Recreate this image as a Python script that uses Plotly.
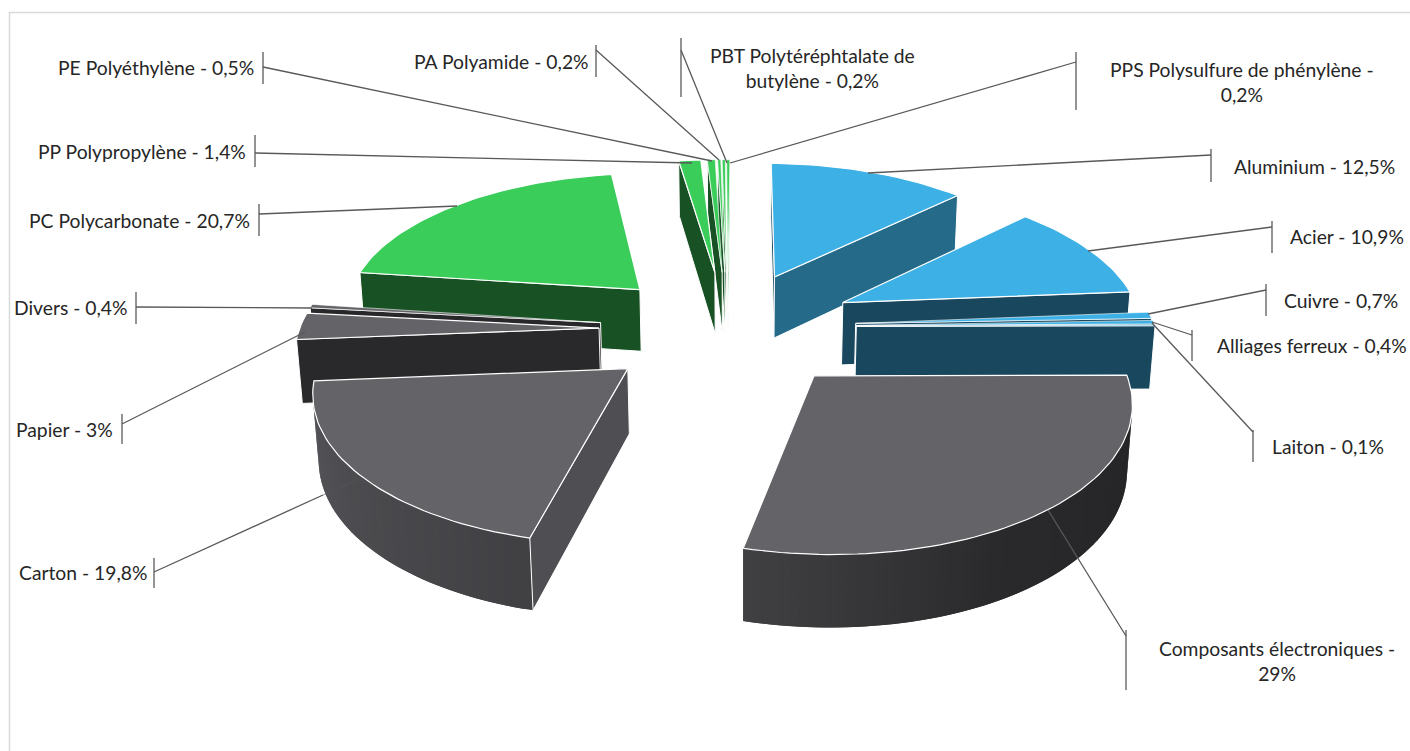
import numpy as np
import plotly.graph_objects as go

# ---- data, clockwise from 12 o'clock
categories = ["Aluminium", "Acier", "Cuivre", "Alliages ferreux", "Laiton",
              "Composants électroniques", "Carton", "Papier", "Divers",
              "PC Polycarbonate", "PP Polypropylène", "PE Polyéthylène",
              "PA Polyamide", "PBT Polytéréphtalate de butylène",
              "PPS Polysulfure de phénylène"]
values = [12.5, 10.9, 0.7, 0.4, 0.1, 29, 19.8, 3, 0.4, 20.7, 1.4, 0.5, 0.2, 0.2, 0.2]
families = ["metal"] * 5 + ["other"] * 4 + ["plastic"] * 6

# ---- styles
TOP = {"metal": (61, 176, 229), "other": (99, 99, 104), "plastic": (59, 205, 90)}
TEXT = "#262626"
LEAD = "#595959"
FONT = "Lato"
FS = 19.3

# ---- camera of the 3-D pie
EXPLODE = 0.43
H = np.array([[297.7, 96.8, 727.7], [2.1, -98.3, 329.9], [-0.0023, 0.1298, 1.0]])
DEPTH = 0.0132
VANISH = np.array([740.0, 5200.0, 1.0])
# small per-slice screen offset (layout only)
nudge = [(-1, 0), (1, -3), (0, -3), (0, -3), (0, -3), (2, -4), (1, -2), (0, -1), (0, 0),
         (1, 1), (0, 0), (0, 0), (0, 0), (0, 0), (0, 0)]

# ---- label layout: text x, y, anchor; tick x, y0, y1; leader from y to end point
label_layout = [
    (1232, 166, "left", 1211, 149, 182, 155, 868, 173),
    (1288, 236, "left", 1272, 221, 253, 227, 1088, 251),
    (1282, 300, "left", 1266, 284, 316, 290, 1148, 314),
    (1215, 345, "left", 1192, 330, 361, 335, 1152, 322),
    (1270, 446, "left", 1253, 430, 462, 432, 1152, 323),
    (1277, 661, "center", 1126, 630, 690, 636, 1048, 510),
    (149, 572, "right", 154, 558, 588, 572, 323, 495),
    (115, 429, "right", 122, 414, 444, 424, 305, 332),
    (130, 307, "right", 136, 292, 324, 307, 312, 308),
    (252, 220, "right", 259, 204, 236, 214, 457, 206),
    (248, 151, "right", 255, 135, 167, 153, 692, 163),
    (256, 67, "right", 263, 52, 84, 67, 712, 161),
    (591, 61, "right", 596, 45, 77, 50, 719, 160),
    (812, 68, "center", 681, 38, 97, 50, 727, 163),
    (1242, 82, "center", 1076, 52, 110, 62, 730, 163),
]
line_breaks = {"Composants électroniques": "Composants électroniques -<br>",
               "PBT Polytéréphtalate de butylène": "PBT Polytéréphtalate de<br>butylène - ",
               "PPS Polysulfure de phénylène": "PPS Polysulfure de phénylène -<br>"}


def label(name, v):
    num = f"{v:g}".replace(".", ",") + "%"
    return line_breaks.get(name, name + " - ") + num


def proj(X, Y, z=0.0, off=(0, 0)):
    p = H @ np.array([X, Y, 1.0]) + z * DEPTH * VANISH
    return p[:2] / p[2] + np.array(off)


def shade(rgb, k):
    return "rgb(%d,%d,%d)" % tuple(int(round(c * k)) for c in rgb)


def area(poly):
    x, y = np.array(poly).T
    return 0.5 * np.sum(x * np.roll(y, -1) - np.roll(x, -1) * y)


def rim_k(deg):
    return float(np.interp(deg, [90, 150, 193, 275], [0.36, 0.42, 0.65, 0.9]))


def flat_k(phi):
    phi = phi % 360
    return float(np.interp(phi, [103, 135, 174, 186], [0.8, 0.6, 0.41, 0.40]))


fig = go.Figure()


def poly(pts, fill, line=None, width=0.6):
    a = np.array(list(pts) + [pts[0]])
    fig.add_trace(go.Scatter(x=a[:, 0], y=a[:, 1], mode="lines", fill="toself",
                             fillcolor=fill, line=dict(color=line or fill, width=width),
                             hoverinfo="skip", showlegend=False))


edges = np.cumsum([0] + values) * 3.6
slices = []
for i, v in enumerate(values):
    a0, a1 = edges[i], edges[i + 1]
    mid = np.radians((a0 + a1) / 2)
    slices.append((np.cos(mid), i, a0, a1, mid))

for _, i, a0, a1, mid in sorted(slices, key=lambda s: -s[0]):
    rgb = TOP[families[i]]
    off = nudge[i]
    ox, oy = EXPLODE * np.sin(mid), EXPLODE * np.cos(mid)
    n = max(2, int((a1 - a0) / 1.5) + 1)
    ang = np.linspace(a0, a1, n)
    rim = [(ox + np.sin(np.radians(t)), oy + np.cos(np.radians(t))) for t in ang]
    apex = (ox, oy)
    # rim wall as overlapping narrow strips (smooth gradient); no outline, so no seams
    for j in range(n - 1):
        k = min(j + 2, n - 1)
        q = [proj(*rim[j], 0, off), proj(*rim[k], 0, off), proj(*rim[k], 1, off), proj(*rim[j], 1, off)]
        if area(q) < 0:
            poly(q, shade(rgb, rim_k((ang[j] + ang[j + 1]) / 2)), None, 0)
    # the two radial walls
    q0 = [proj(*apex, 0, off), proj(*rim[0], 0, off), proj(*rim[0], 1, off), proj(*apex, 1, off)]
    q1 = [proj(*rim[-1], 0, off), proj(*apex, 0, off), proj(*apex, 1, off), proj(*rim[-1], 1, off)]
    for q, phi in ((q0, a0 - 90), (q1, a1 + 90)):
        if area(q) < 0:
            poly(q, shade(rgb, flat_k(phi)), "white", 1.0)
    top = [proj(*apex, 0, off)] + [proj(*r, 0, off) for r in rim]
    poly(top, shade(rgb, 1.0), "white", 1.2 if values[i] >= 1 else 0.6)

# frame of the chart
shapes = [dict(type="rect", x0=9.5, y0=12.5, x1=1425, y1=770,
               line=dict(color="#d9d9d9", width=1.5), layer="below")]
annotations = []
for name, v, (tx, ty, anc, kx, k0, k1, ly, ex, ey) in zip(categories, values, label_layout):
    annotations.append(dict(x=tx, y=ty, text=label(name, v), showarrow=False, xanchor=anc,
                            yanchor="middle", align="center",
                            font=dict(family=FONT, size=FS, color=TEXT)))
    shapes.append(dict(type="line", x0=kx, x1=kx, y0=k0, y1=k1, line=dict(color=LEAD, width=1.3)))
    shapes.append(dict(type="line", x0=kx, x1=ex, y0=ly, y1=ey, line=dict(color=LEAD, width=1.3)))
# faint continuation of the Carton leader over its wall
shapes.append(dict(type="line", x0=323, x1=358, y0=495, y1=480,
                   line=dict(color="rgba(89,89,89,0.6)", width=1)))

fig.update_layout(width=1410, height=751, margin=dict(l=0, r=0, t=0, b=0),
                  paper_bgcolor="white", plot_bgcolor="white",
                  xaxis=dict(range=[0, 1410], visible=False, fixedrange=True),
                  yaxis=dict(range=[751, 0], visible=False, fixedrange=True),
                  shapes=shapes, annotations=annotations, showlegend=False)
fig.write_html("out.html", config={"displayModeBar": False},
               post_script="document.body.style.margin='0';document.body.style.overflow='hidden';")
